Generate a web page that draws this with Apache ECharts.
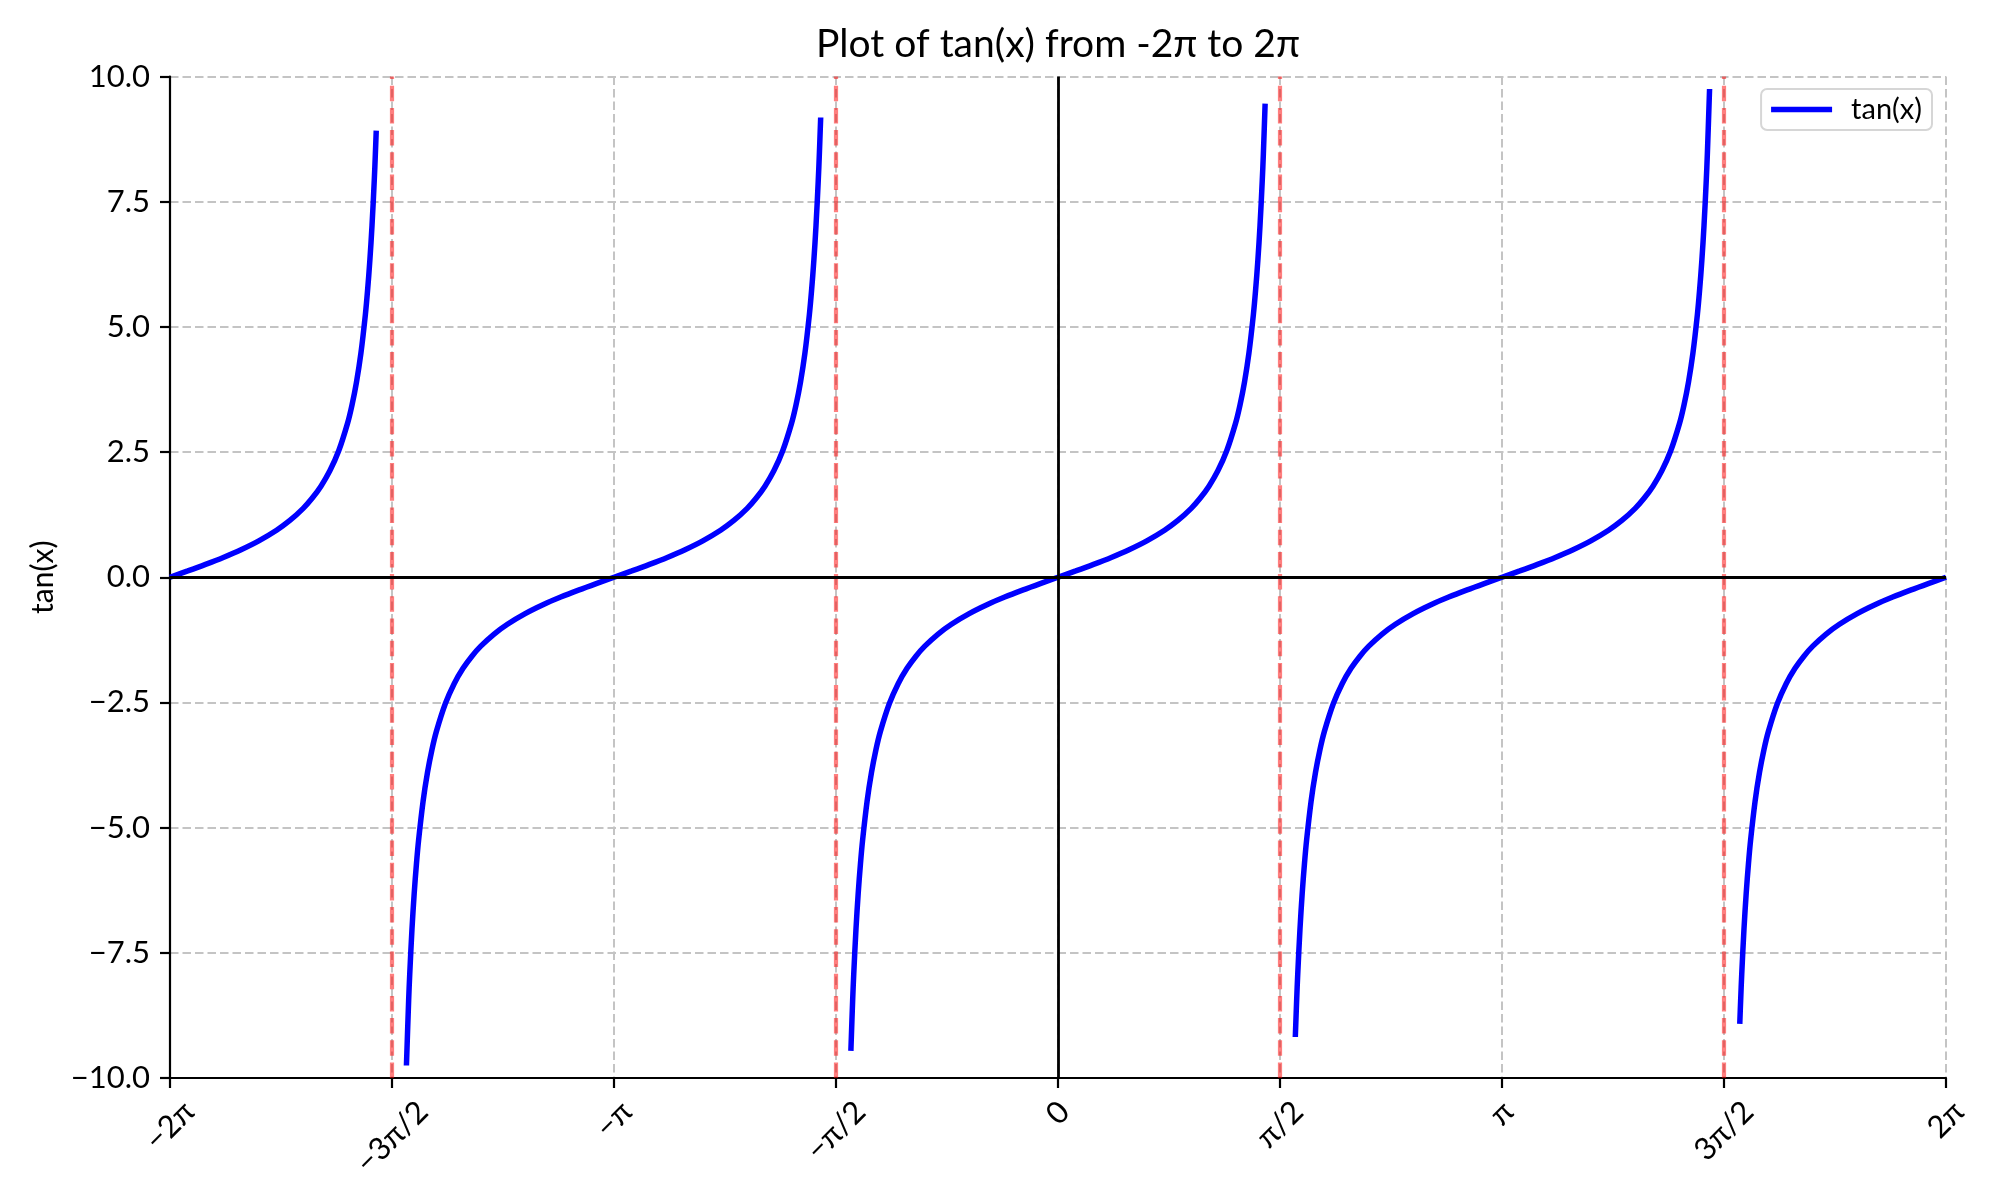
<!DOCTYPE html>
<html>
<head>
<meta charset="utf-8">
<script src="https://cdn.jsdelivr.net/npm/echarts@6/dist/echarts.min.js"></script>
<style>
html,body{margin:0;padding:0;background:#fff;}
#chart{width:2000px;height:1200px;}
</style>
</head>
<body>
<div id="chart"></div>
<script>
// x values are in units of π (x = -2 means -2π); y = tan(x)
const branch1 = [[-2,0],[-1.96,0.126],[-1.92,0.257],[-1.88,0.396],[-1.84,0.550],[-1.80,0.727],[-1.76,0.939],[-1.73,1.134],[-1.70,1.376],[-1.68,1.576],[-1.66,1.819],[-1.64,2.125],[-1.62,2.526],[-1.60,3.078],[-1.59,3.442],[-1.58,3.895],[-1.57,4.474],[-1.56,5.242],[-1.555,5.730],[-1.55,6.314],[-1.545,7.026],[-1.54,7.916],[-1.5375,8.449],[-1.5355,8.920]];
const branch2 = [[-1.4675,-9.750],[-1.4625,-8.449],[-1.46,-7.916],[-1.455,-7.026],[-1.45,-6.314],[-1.445,-5.730],[-1.44,-5.242],[-1.43,-4.474],[-1.42,-3.895],[-1.41,-3.442],[-1.40,-3.078],[-1.38,-2.526],[-1.36,-2.125],[-1.34,-1.819],[-1.32,-1.576],[-1.30,-1.376],[-1.27,-1.134],[-1.24,-0.939],[-1.20,-0.727],[-1.16,-0.550],[-1.12,-0.396],[-1.08,-0.257],[-1.04,-0.126],[-1,0],[-0.96,0.126],[-0.92,0.257],[-0.88,0.396],[-0.84,0.550],[-0.80,0.727],[-0.76,0.939],[-0.73,1.134],[-0.70,1.376],[-0.68,1.576],[-0.66,1.819],[-0.64,2.125],[-0.62,2.526],[-0.60,3.078],[-0.59,3.442],[-0.58,3.895],[-0.57,4.474],[-0.56,5.242],[-0.555,5.730],[-0.55,6.314],[-0.545,7.026],[-0.54,7.916],[-0.5375,8.449],[-0.5345,9.181]];
const branch3 = [[-0.4665,-9.457],[-0.4625,-8.449],[-0.46,-7.916],[-0.455,-7.026],[-0.45,-6.314],[-0.445,-5.730],[-0.44,-5.242],[-0.43,-4.474],[-0.42,-3.895],[-0.41,-3.442],[-0.40,-3.078],[-0.38,-2.526],[-0.36,-2.125],[-0.34,-1.819],[-0.32,-1.576],[-0.30,-1.376],[-0.27,-1.134],[-0.24,-0.939],[-0.20,-0.727],[-0.16,-0.550],[-0.12,-0.396],[-0.08,-0.257],[-0.04,-0.126],[0,0],[0.04,0.126],[0.08,0.257],[0.12,0.396],[0.16,0.550],[0.20,0.727],[0.24,0.939],[0.27,1.134],[0.30,1.376],[0.32,1.576],[0.34,1.819],[0.36,2.125],[0.38,2.526],[0.40,3.078],[0.41,3.442],[0.42,3.895],[0.43,4.474],[0.44,5.242],[0.445,5.730],[0.45,6.314],[0.455,7.026],[0.46,7.916],[0.4625,8.449],[0.4665,9.457]];
const branch4 = [[0.5345,-9.181],[0.5375,-8.449],[0.54,-7.916],[0.545,-7.026],[0.55,-6.314],[0.555,-5.730],[0.56,-5.242],[0.57,-4.474],[0.58,-3.895],[0.59,-3.442],[0.60,-3.078],[0.62,-2.526],[0.64,-2.125],[0.66,-1.819],[0.68,-1.576],[0.70,-1.376],[0.73,-1.134],[0.76,-0.939],[0.80,-0.727],[0.84,-0.550],[0.88,-0.396],[0.92,-0.257],[0.96,-0.126],[1,0],[1.04,0.126],[1.08,0.257],[1.12,0.396],[1.16,0.550],[1.20,0.727],[1.24,0.939],[1.27,1.134],[1.30,1.376],[1.32,1.576],[1.34,1.819],[1.36,2.125],[1.38,2.526],[1.40,3.078],[1.41,3.442],[1.42,3.895],[1.43,4.474],[1.44,5.242],[1.445,5.730],[1.45,6.314],[1.455,7.026],[1.46,7.916],[1.4625,8.449],[1.4675,9.750]];
const branch5 = [[1.5355,-8.920],[1.5375,-8.449],[1.54,-7.916],[1.545,-7.026],[1.55,-6.314],[1.555,-5.730],[1.56,-5.242],[1.57,-4.474],[1.58,-3.895],[1.59,-3.442],[1.60,-3.078],[1.62,-2.526],[1.64,-2.125],[1.66,-1.819],[1.68,-1.576],[1.70,-1.376],[1.73,-1.134],[1.76,-0.939],[1.80,-0.727],[1.84,-0.550],[1.88,-0.396],[1.92,-0.257],[1.96,-0.126],[2,0]];
const asymptotes = [-1.5, -0.5, 0.5, 1.5];
const xTickLabels = ['−2π','−3π/2','−π','−π/2','0','π/2','π','3π/2','2π'];
const seriesName = 'tan(x)';
const titleText = 'Plot of tan(x) from -2π to 2π';
const yAxisName = 'tan(x)';

const FONT = 'Lato, "Open Sans", sans-serif';
const LABEL_SIZE = 31;

// per-label padding so that all rotated labels hang from the same top line (matplotlib-like)
const mctx = document.createElement('canvas').getContext('2d');
mctx.font = LABEL_SIZE + 'px ' + FONT;
const widths = xTickLabels.map(s => mctx.measureText(s).width);
const w0 = Math.min.apply(null, widths);
const rich = {};
xTickLabels.forEach((s, i) => {
  const p = (widths[i] - w0) * 0.5;
  rich['l' + i] = {padding: [p, p, 0, 0], fontSize: LABEL_SIZE, fontFamily: FONT, color: '#000'};
});
const baseMargin = 18 + (w0 + 30) * 0.354;

const chart = echarts.init(document.getElementById('chart'), null, {renderer: 'canvas'});
const blueLine = {color: '#0000ff', width: 5.5, cap: 'butt'};
function branchSeries(data) {
  return {
    name: seriesName, type: 'line', data: data, showSymbol: false, symbol: 'none',
    smooth: 0.35,
    lineStyle: blueLine, itemStyle: {color: '#0000ff'}, z: 2, silent: true,
    emphasis: {disabled: true}
  };
}
const option = {
  animation: false,
  backgroundColor: '#fff',
  textStyle: {fontFamily: FONT},
  title: {
    text: titleText, left: 1058, top: 25, textAlign: 'center', padding: 0,
    textStyle: {fontSize: 39, fontWeight: 'normal', color: '#000', fontFamily: FONT}
  },
  legend: {
    data: [{name: seriesName, icon: 'rect'}],
    right: 68, top: 89, orient: 'vertical',
    padding: [6, 10, 6, 10],
    borderColor: '#d6d6d6', borderWidth: 2, borderRadius: 6,
    backgroundColor: 'rgba(255,255,255,0.8)',
    itemWidth: 61, itemHeight: 5.5,
    textStyle: {fontSize: 29, color: '#000', fontFamily: FONT, padding: [0, 0, 0, 14]},
    selectedMode: false
  },
  grid: {left: 170, right: 54, top: 76.5, bottom: 122, containLabel: false, outerBoundsMode: 'none'},
  xAxis: {
    type: 'value', min: -2, max: 2, interval: 0.5,
    axisLine: {onZero: false, lineStyle: {color: '#000', width: 2.2}},
    axisTick: {show: true, inside: false, length: 10, lineStyle: {color: '#000', width: 2.2}},
    splitLine: {show: true, lineStyle: {color: '#c4c4c4', width: 2, type: [8.5, 4]}},
    axisLabel: {
      rotate: 45, align: 'center', verticalAlign: 'middle', margin: baseMargin,
      hideOverlap: false, showMinLabel: true, showMaxLabel: true,
      fontSize: LABEL_SIZE, color: '#000', fontFamily: FONT,
      formatter: function (v) {
        const i = Math.round((v + 2) * 2);
        return '{l' + i + '|' + xTickLabels[i] + '}';
      },
      rich: rich
    }
  },
  yAxis: {
    type: 'value', min: -10, max: 10, interval: 2.5,
    name: yAxisName, nameLocation: 'middle', nameRotate: 90, nameGap: 112,
    nameTextStyle: {fontSize: 30, color: '#000', fontFamily: FONT},
    axisLine: {show: true, onZero: false, lineStyle: {color: '#000', width: 2.2}},
    axisTick: {show: true, inside: false, length: 10, lineStyle: {color: '#000', width: 2.2}},
    splitLine: {show: true, lineStyle: {color: '#c4c4c4', width: 2, type: [8.5, 4]}},
    axisLabel: {
      margin: 20, fontSize: LABEL_SIZE, color: '#000', fontFamily: FONT,
      showMinLabel: true, showMaxLabel: true,
      formatter: function (v) { return v.toFixed(1).replace('-', '−'); }
    }
  },
  series: [
    branchSeries(branch1), branchSeries(branch2), branchSeries(branch3),
    branchSeries(branch4), branchSeries(branch5),
    {
      name: 'asymptotes', type: 'line', data: [], z: 1, silent: true,
      markLine: {
        silent: true, symbol: ['none', 'none'], label: {show: false},
        emphasis: {disabled: true},
        lineStyle: {color: 'rgba(255,0,0,0.5)', width: 4.2, type: [15.5, 6.7]},
        data: asymptotes.map(a => ({xAxis: a}))
      }
    },
    {
      name: 'zero lines', type: 'line', data: [], z: 3, silent: true,
      markLine: {
        silent: true, symbol: ['none', 'none'], label: {show: false},
        emphasis: {disabled: true},
        lineStyle: {color: '#000', width: 2.8, type: 'solid'},
        data: [{yAxis: 0}, {xAxis: 0}]
      }
    }
  ]
};
chart.setOption(option);
</script>
</body>
</html>
